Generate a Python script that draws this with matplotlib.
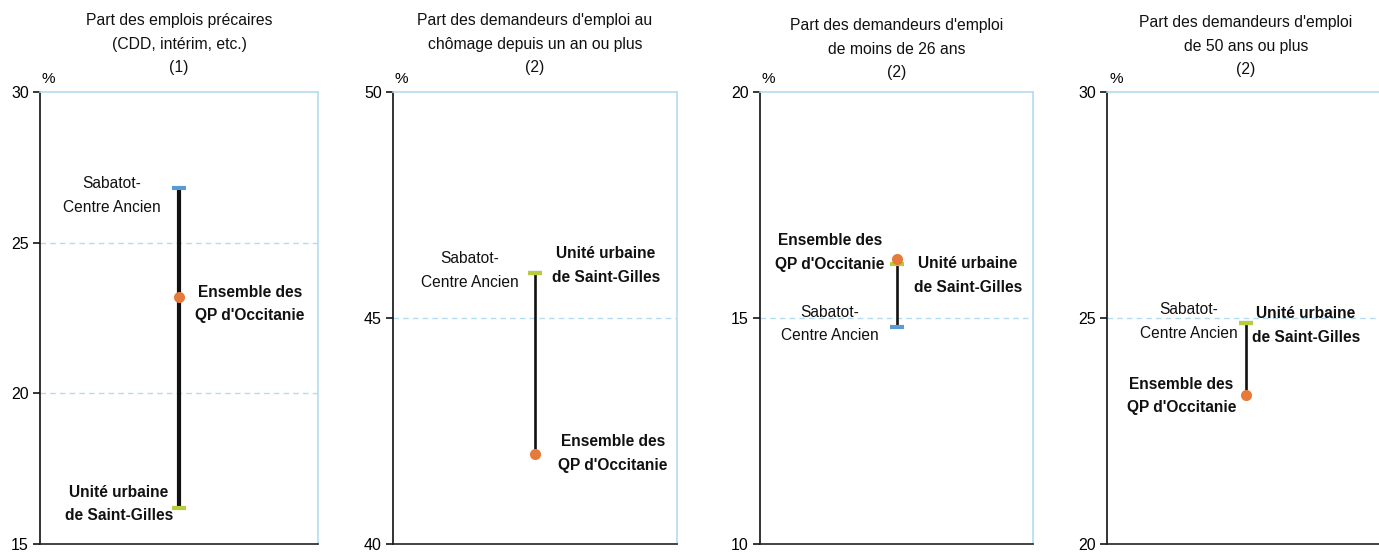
import matplotlib
matplotlib.use("Agg")
import matplotlib.pyplot as plt

# ------------------------------------------------------------
# Data (%)
# ------------------------------------------------------------

titles = [
    "Part des emplois précaires\n(CDD, intérim, etc.)\n(1)",
    "Part des demandeurs d'emploi au\nchômage depuis un an ou plus\n(2)",
    "Part des demandeurs d'emploi\nde moins de 26 ans\n(2)",
    "Part des demandeurs d'emploi\nde 50 ans ou plus\n(2)",
]

sabatot = [26.8, 46.0, 14.8, 24.9]
unite = [16.2, 46.0, 16.2, 24.9]
ensemble = [23.2, 42.0, 16.3, 23.3]

y_limits = [(15, 30), (40, 50), (10, 20), (20, 30)]
y_ticks = [[15, 20, 25, 30], [40, 45, 50], [10, 15, 20], [20, 25, 30]]

label_sabatot = "Sabatot-\nCentre Ancien"
label_unite = "Unité urbaine\nde Saint-Gilles"
label_ensemble = "Ensemble des\nQP d'Occitanie"

# ------------------------------------------------------------
# Layout / style
# ------------------------------------------------------------

plt.rcParams["font.family"] = ["Liberation Sans", "DejaVu Sans"]

blue = "#5b9bd5"
green = "#b8cc3c"
orange = "#e57a3a"
light_blue = "#b3dcf0"

W, H = 1379, 553
fig = plt.figure(figsize=(W / 100, H / 100), dpi=100)

# axes boxes in pixels: left, right ; top / bottom shared
boxes = [(40, 318), (393, 677), (760, 1033), (1107, 1385)]
top_px, bot_px = 92, 544
title_bottom_px = [75, 75, 80, 77]
line_w = [3.0, 1.9, 1.9, 1.9]

# label placement: (ha, dx px, dy px) relative to the marker
offsets = [
    {"s": ("right", -18, -7), "u": ("right", -6, 4), "e": ("left", 16, -7)},
    {"s": ("right", -16, 2), "u": ("left", 17, 7), "e": ("left", 23, 0)},
    {"s": ("right", -18, 3), "u": ("left", 17, -12), "e": ("right", -12, 7)},
    {"s": ("right", -8, 1), "u": ("left", 6, -3), "e": ("right", -10, -1)},
]

for i in range(4):
    l, r = boxes[i]
    ax = fig.add_axes([l / W, 1 - bot_px / H, (r - l) / W, (bot_px - top_px) / H])
    ax.set_xlim(0, 1)
    ax.set_ylim(*y_limits[i])
    ax.set_xticks([])
    ax.set_yticks(y_ticks[i])
    ax.tick_params(axis="y", direction="out", length=5, width=1.1, labelsize=11.5, pad=3)

    for s in ["top", "right"]:
        ax.spines[s].set_color(light_blue)
        ax.spines[s].set_linewidth(1.2)
    ax.spines["left"].set_color("#111111")
    ax.spines["left"].set_linewidth(1.2)
    ax.spines["bottom"].set_color("#222222")
    ax.spines["bottom"].set_linewidth(1.2)

    for t in y_ticks[i][1:-1]:
        ax.axhline(t, color=light_blue, linestyle=(0, (4, 3)), linewidth=1.0, zorder=0)

    vals = [sabatot[i], unite[i], ensemble[i]]
    ax.plot([0.5, 0.5], [min(vals), max(vals)], color="#111111",
            linewidth=line_w[i], solid_capstyle="butt", zorder=2)
    ax.plot(0.5, sabatot[i], marker="_", markersize=10, markeredgewidth=3,
            color=blue, zorder=3)
    ax.plot(0.5, unite[i], marker="_", markersize=10, markeredgewidth=3,
            color=green, zorder=4)
    ax.plot(0.5, ensemble[i], marker="o", markersize=8, color=orange,
            markeredgewidth=0, zorder=5)

    o = offsets[i]
    for key, val, txt, weight in [("s", sabatot[i], label_sabatot, "normal"),
                                  ("u", unite[i], label_unite, "bold"),
                                  ("e", ensemble[i], label_ensemble, "bold")]:
        ha, dx, dy = o[key]
        ax.annotate(txt, xy=(0.5, val), xytext=(dx, dy), textcoords="offset pixels",
                    ha=ha, va="center", multialignment="center",
                    fontsize=11.2, fontweight=weight, color="#111111",
                    linespacing=1.72, annotation_clip=False)

    ax.annotate("%", xy=(0, 1), xycoords="axes fraction", xytext=(2, 6),
                textcoords="offset pixels", ha="left", va="bottom", fontsize=11)

    # title centred over the marker line
    cx = (l + 139) / W if i == 3 else (l + r) / 2 / W
    fig.text(cx, 1 - title_bottom_px[i] / H, titles[i], ha="center",
             va="bottom", fontsize=11.3, linespacing=1.7, color="#111111")

fig.savefig("out.png", dpi=100)
